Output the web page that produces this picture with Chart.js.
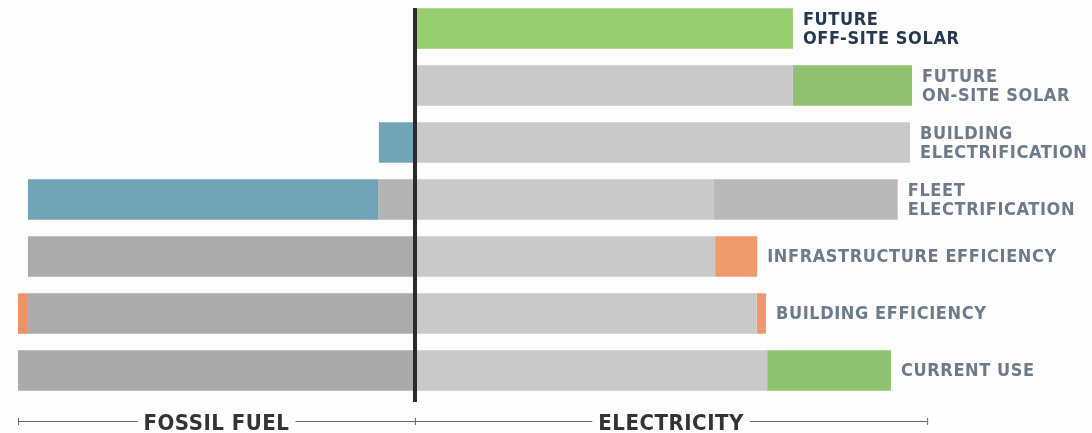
<!DOCTYPE html>
<html>
<head>
<meta charset="utf-8">
<script src="https://cdn.jsdelivr.net/npm/chart.js@4/dist/chart.umd.min.js"></script>
<style>
  html, body { margin: 0; padding: 0; background: #fdfdfd; }
  #wrap { width: 1092px; height: 433px; position: relative; }
</style>
</head>
<body>
<div id="wrap"><canvas id="myChart"></canvas></div>
<script>
// rows, top to bottom
const labels = [
  ["FUTURE", "OFF-SITE SOLAR"],
  ["FUTURE", "ON-SITE SOLAR"],
  ["BUILDING", "ELECTRIFICATION"],
  ["FLEET", "ELECTRIFICATION"],
  ["INFRASTRUCTURE EFFICIENCY"],
  ["BUILDING EFFICIENCY"],
  ["CURRENT USE"],
];

// fossil fuel side (negative, read outward from the centre line)
const fossilGrey = [0, 0, 0, -9.3, -97.5, -97.5, -100];
const fossilBlue = [0, 0, -9.1, -88.2, 0, 0, 0];
const fossilOrange = [0, 0, 0, 0, 0, -2.5, 0];

// electricity side
const elecBase = [0, 95.2, 124.7, 75.3, 75.6, 86.1, 88.7];
const elecFleet = [0, 0, 0, 46.3, 0, 0, 0];
const elecSaved = [0, 0, 0, 0, 10.6, 2.3, 0];
const elecSolar = [95.2, 30, 0, 0, 0, 0, 31.2];

const axisNames = ["FOSSIL FUEL", "ELECTRICITY"];
const axisEnds = [-100, 0, 129];

const FONT = '"DejaVu Sans Condensed", "Liberation Sans Narrow", "Roboto", sans-serif';

const overlay = {
  id: "overlay",
  afterDatasetsDraw: (chart) => {
    const ctx = chart.ctx;
    const x = chart.scales.x;
    const y = chart.scales.y;
    const x0 = x.getPixelForValue(0);
    ctx.save();

    // centre line
    ctx.fillStyle = "#2b2b2b";
    ctx.fillRect(x0 - 2, 8, 4, 394);

    // row labels
    ctx.textBaseline = "middle";
    ctx.textAlign = "left";
    ctx.font = "bold 18px " + FONT;
    ctx.letterSpacing = "0.6px";
    labels.forEach((lab, i) => {
      const total = elecBase[i] + elecFleet[i] + elecSaved[i] + elecSolar[i];
      const px = x.getPixelForValue(total) + 10;
      const py = y.getPixelForValue(i);
      ctx.fillStyle = i === 0 ? "#24384f" : "#6c7a89";
      const lh = 19;
      lab.forEach((line, k) => {
        ctx.fillText(line, px, py + 1 + (k - (lab.length - 1) / 2) * lh);
      });
    });

    // bottom axis
    const ay = 421;
    const ends = axisEnds.map((v) => x.getPixelForValue(v));
    ctx.strokeStyle = "#666";
    ctx.lineWidth = 1;
    ctx.font = "bold 22px " + FONT;
    ctx.letterSpacing = "0.5px";
    ctx.fillStyle = "#333333";
    ctx.textAlign = "center";
    ctx.textBaseline = "alphabetic";
    axisNames.forEach((name, k) => {
      const a = ends[k];
      const b = ends[k + 1];
      const mid = (a + b) / 2;
      const w = ctx.measureText(name).width / 2 + 6;
      ctx.beginPath();
      ctx.moveTo(a, ay + 0.5);
      ctx.lineTo(mid - w, ay + 0.5);
      ctx.moveTo(mid + w, ay + 0.5);
      ctx.lineTo(b, ay + 0.5);
      ctx.stroke();
      ctx.fillText(name, mid, 430);
    });
    ends.forEach((e) => {
      ctx.beginPath();
      ctx.moveTo(e + 0.5, ay - 3);
      ctx.lineTo(e + 0.5, ay + 4);
      ctx.stroke();
    });
    ctx.restore();
  },
};

const ds = (data, color) => ({
  data: data,
  backgroundColor: color,
  borderWidth: 0,
  barPercentage: 0.71,
  categoryPercentage: 1,
});

const config = {
  type: "bar",
  data: {
    labels: labels,
    datasets: [
      ds(fossilGrey, ["#b2b2b2", "#b2b2b2", "#b2b2b2", "#b3b3b3", "#ababab", "#ababab", "#aaaaaa"]),
      ds(fossilBlue, "#70a4b6"),
      ds(fossilOrange, "#ee9165"),
      ds(elecBase, "#c9c9c9"),
      ds(elecFleet, "#b9b9b9"),
      ds(elecSaved, "#ee9a6c"),
      ds(elecSolar, ["#95cd6f", "#90c170", "#90c170", "#90c170", "#90c170", "#90c170", "#8fc271"]),
    ],
  },
  options: {
    responsive: true,
    maintainAspectRatio: false,
    animation: false,
    indexAxis: "y",
    layout: { padding: { left: 18, right: 81.5, top: 0, bottom: 34 } },
    scales: {
      x: { stacked: true, display: false, min: -100, max: 150 },
      y: { stacked: true, display: false },
    },
    plugins: {
      legend: { display: false },
      tooltip: { enabled: false },
    },
  },
  plugins: [overlay],
};

const myChart = new Chart(document.getElementById("myChart"), config);
</script>
</body>
</html>
